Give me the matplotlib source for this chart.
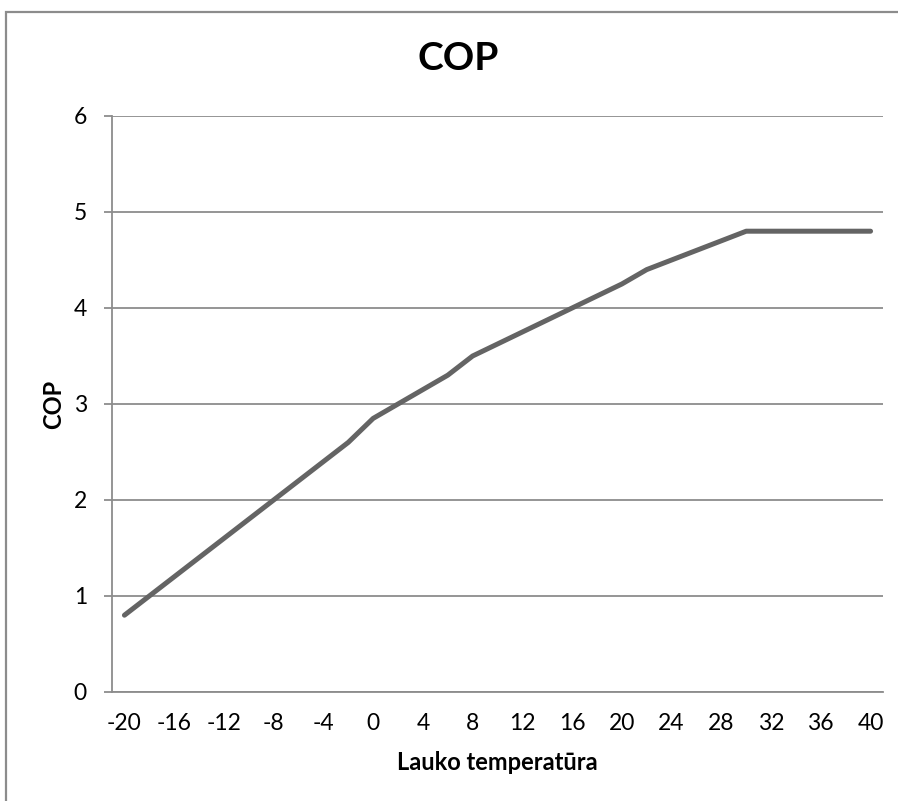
import matplotlib.pyplot as plt
from matplotlib.patches import Rectangle

plt.rcParams['font.family'] = ['Lato', 'DejaVu Sans']

# outdoor temperature (category axis, every 2 degrees)
temps = [-20, -18, -16, -14, -12, -10, -8, -6, -4, -2, 0, 2, 4, 6, 8, 10,
         12, 14, 16, 18, 20, 22, 24, 26, 28, 30, 32, 34, 36, 38, 40]
cop = [0.8, 1.0, 1.2, 1.4, 1.6, 1.8, 2.0, 2.2, 2.4, 2.6, 2.85, 3.0, 3.15, 3.3,
       3.5, 3.625, 3.75, 3.875, 4.0, 4.125, 4.25, 4.4, 4.5, 4.6, 4.7, 4.8,
       4.8, 4.8, 4.8, 4.8, 4.8]
y_ticks = [0, 1, 2, 3, 4, 5, 6]

W, H = 898, 801
fig = plt.figure(figsize=(W / 100, H / 100), dpi=100)

# chart frame (only top and left edges fall inside the image)
fig.patches.append(Rectangle((6 / W, -0.1), 1.2, 1 - 12 / H + 0.1,
                             transform=fig.transFigure, fill=False,
                             edgecolor='#8c8c8c', linewidth=1.6))

ax = fig.add_axes([112 / W, 1 - 692 / H, (883 - 112) / W, (692 - 116) / H])

idx = list(range(len(temps)))
ax.plot(idx, cop, color='#646464', linewidth=3.6, solid_capstyle='round',
        solid_joinstyle='round', zorder=3)

ax.set_xlim(-0.5, len(temps) - 0.5)
ax.set_ylim(0, 6)
ax.set_yticks(y_ticks)
ax.set_xticks(idx[::2])
ax.set_xticklabels([str(t) for t in temps[::2]])

ax.grid(axis='y', color='#8c8c8c', linewidth=1.3)
ax.set_axisbelow(True)
for side in ['top', 'right']:
    ax.spines[side].set_visible(False)
for side in ['left', 'bottom']:
    ax.spines[side].set_color('#8c8c8c')
    ax.spines[side].set_linewidth(1.3)

ax.tick_params(axis='y', length=6, width=1.3, color='#8c8c8c', labelsize=16.5, pad=12)
ax.tick_params(axis='x', length=0, labelsize=16.5, pad=15)

ax.set_xlabel('Lauko temperatūra', fontsize=17, fontweight='bold', va='center')
ax.xaxis.set_label_coords(0.5, (692 - 763) / 576)
ax.set_ylabel('COP', fontsize=17, fontweight='bold', va='center')
ax.yaxis.set_label_coords((54 - 112) / 771, 0.5)

fig.text(458 / W, 1 - 59 / H, 'COP', fontsize=28, fontweight='bold',
         ha='center', va='center')

fig.savefig('out.png', dpi=100)
